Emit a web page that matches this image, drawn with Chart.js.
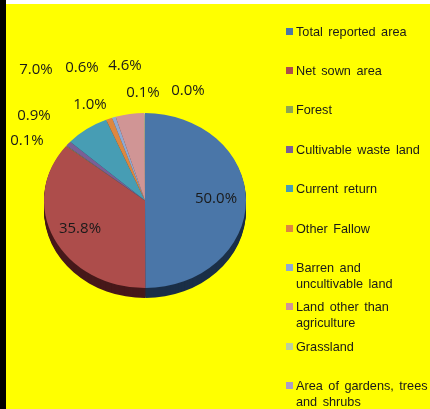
<!DOCTYPE html>
<html>
<head>
<meta charset="utf-8">
<script src="https://cdn.jsdelivr.net/npm/chart.js@4"></script>
<style>
html,body{margin:0;padding:0;background:#fff;width:430px;height:409px;overflow:hidden}
#strip{position:absolute;left:0;top:0;width:6px;height:409px;background:#000}
#wrap{position:absolute;left:0;top:0;width:430px;height:409px}
</style>
</head>
<body>
<div id="wrap"><canvas id="c" width="430" height="409"></canvas></div>
<div id="strip"></div>
<script>
const categories = ["Total reported area","Net sown area","Forest","Cultivable waste land","Current return","Other Fallow","Barren and uncultivable land","Land other than agriculture","Grassland","Area of gardens, trees and shrubs"];
const values = [50.0,35.8,0.1,0.9,7.0,1.0,0.6,4.6,0.1,0.0];
const colors = ["#4a76a8","#ad4d4b","#8ea552","#7a5f96","#479db4","#dd8740","#8fa9d2","#d09595","#bdcf9b","#ab9dc4"];
const sideColors = ["#1b2f47","#47191a","#3a4520","#30243f","#1b4552","#693b17","#3d4b63","#5d3c3c","#4f5940","#443e52"];

// layout (not data)
const CY = 200.5, SQUASH = 87.5 / 101, DEPTH = 10;
const labelPos = [[216,198.5],[80,228.5],[27,140.5],[34,115.5],[36,69.5],[90,104.5],[82,67.5],[125,65.5],[143,92.5],[188,90.5]];
const legendLines = [["Total reported area"],["Net sown area"],["Forest"],["Cultivable waste land"],["Current return"],["Other Fallow"],["Barren and","uncultivable land"],["Land other than","agriculture"],["Grassland"],["Area of gardens, trees","and shrubs"]];
const legendY = [31,70.5,109.5,149,188.5,228,267.5,306.5,346.5,385.5];

const pie3d = {
  id:'pie3d',
  beforeDraw(chart){
    const {ctx,width,height} = chart;
    ctx.save();
    ctx.fillStyle = '#ffff00';
    ctx.fillRect(0,4,width,height-4);
    ctx.restore();
  },
  beforeDatasetsDraw(chart){
    const ctx = chart.ctx, arcs = chart.getDatasetMeta(0).data;
    for(let d = DEPTH; d >= 1; d--){
      ctx.save();
      ctx.translate(0, CY + d);
      ctx.scale(1, SQUASH);
      ctx.translate(0, -arcs[0].y);
      arcs.forEach((a,i)=>{
        ctx.beginPath();
        ctx.moveTo(a.x,a.y);
        ctx.arc(a.x,a.y,a.outerRadius,a.startAngle,a.endAngle);
        ctx.closePath();
        ctx.fillStyle = sideColors[i];
        ctx.fill();
      });
      ctx.restore();
    }
    ctx.save();
    ctx.translate(0, CY);
    ctx.scale(1, SQUASH);
    ctx.translate(0, -arcs[0].y);
  },
  afterDatasetsDraw(chart){
    const ctx = chart.ctx;
    ctx.restore();
    ctx.save();
    ctx.fillStyle = '#1a1a1a';
    ctx.textBaseline = 'middle';
    ctx.textAlign = 'center';
    ctx.font = '15px "Open Sans"';
    values.forEach((v,i)=>ctx.fillText(v.toFixed(1)+'%',labelPos[i][0],labelPos[i][1]));
    ctx.textAlign = 'left';
    ctx.font = '12.7px "Liberation Sans"';
    ctx.wordSpacing = '2px';
    legendLines.forEach((lines,i)=>{
      const y = legendY[i];
      ctx.fillStyle = colors[i];
      ctx.fillRect(286,Math.round(y-3.5),7,7);
      ctx.fillStyle = '#1a1a1a';
      lines.forEach((t,j)=>ctx.fillText(t,296,y+1+j*16));
    });
    ctx.restore();
  }
};

new Chart(document.getElementById('c'),{
  type:'pie',
  data:{labels:categories,datasets:[{data:values,backgroundColor:colors,borderWidth:0}]},
  options:{
    responsive:false,animation:false,
    layout:{padding:{left:44,right:184,top:99,bottom:108}},
    plugins:{legend:{display:false},tooltip:{enabled:false}}
  },
  plugins:[pie3d]
});
</script>
</body>
</html>
